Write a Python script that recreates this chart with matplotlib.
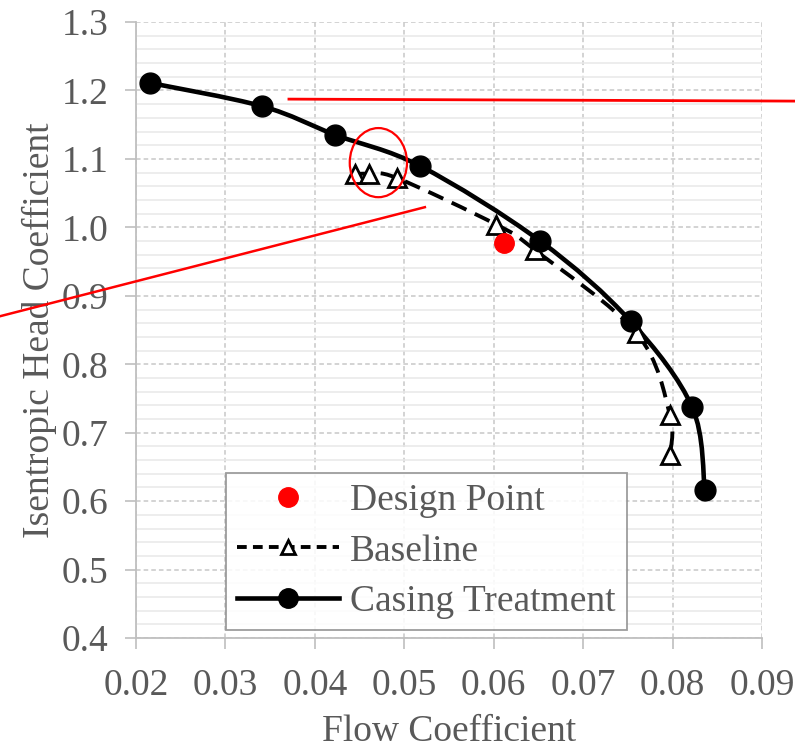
import matplotlib
matplotlib.use('Agg')
import matplotlib.pyplot as plt
from matplotlib.path import Path
from matplotlib.patches import PathPatch, Ellipse
from matplotlib.lines import Line2D
from matplotlib.ticker import MultipleLocator
import numpy as np

#################### DATA ##############################

casing_x = [0.0216, 0.0341, 0.0423, 0.0518, 0.0652, 0.0753, 0.0822, 0.0836]
casing_y = [1.211, 1.177, 1.135, 1.0895, 0.980, 0.863, 0.737, 0.616]

baseline_x = [0.0445, 0.0460, 0.0492, 0.0603, 0.0646, 0.0760, 0.0797, 0.0797]
baseline_y = [1.078, 1.078, 1.072, 1.004, 0.967, 0.845, 0.726, 0.667]

design_x = [0.0612]
design_y = [0.9765]

x_ticks = [0.02, 0.03, 0.04, 0.05, 0.06, 0.07, 0.08, 0.09]
y_ticks = [0.4, 0.5, 0.6, 0.7, 0.8, 0.9, 1.0, 1.1, 1.2, 1.3]

#################### helpers ##############################

def smooth_path(xs, ys):
    # excel style smoothed line: catmull-rom turned into cubic beziers
    p = np.column_stack([xs, ys])
    pts = np.vstack([p[0], p, p[-1]])
    verts = [p[0]]
    codes = [Path.MOVETO]
    for i in range(1, len(pts) - 2):
        c1 = pts[i] + (pts[i + 1] - pts[i - 1]) / 6.0
        c2 = pts[i + 1] - (pts[i + 2] - pts[i]) / 6.0
        verts += [c1, c2, pts[i + 1]]
        codes += [Path.CURVE4] * 3
    return Path(verts, codes)

#################### PLOT ##############################

txt = '#595959'
fs = 27
plt.rcParams['font.family'] = 'Liberation Serif'
plt.rcParams['font.size'] = fs

fig = plt.figure(figsize=(7.95, 7.5), dpi=100)
ax = fig.add_axes([0.1711, 0.1493, 0.7874, 0.8213])

ax.set_xlim(0.02, 0.09)
ax.set_ylim(0.4, 1.3)
ax.set_xticks(x_ticks)
ax.set_yticks(y_ticks)
ax.set_xticklabels(['%.2f' % v for v in x_ticks])
ax.set_yticklabels(['%.1f' % v for v in y_ticks])
ax.yaxis.set_minor_locator(MultipleLocator(0.02))

ax.grid(which='major', color='#c8c8c8', ls=(0, (3, 2)), lw=1.1, zorder=0)
ax.grid(which='minor', axis='y', color='#e8e8e8', ls='-', lw=1.1, zorder=0)
ax.tick_params(which='major', direction='out', length=8, width=1.2,
               color='#bfbfbf', labelcolor=txt, labelsize=fs)
ax.tick_params(axis='x', pad=14)
ax.tick_params(axis='y', pad=12)
ax.tick_params(which='minor', length=0)
for s in ['top', 'right']:
    ax.spines[s].set_visible(False)
for s in ['left', 'bottom']:
    ax.spines[s].set_color('#bfbfbf')
    ax.spines[s].set_linewidth(1.3)

ax.set_xlabel('Flow Coefficient', color=txt, fontsize=fs, labelpad=8)
ax.set_ylabel('Isentropic Head Coefficient', color=txt, fontsize=fs, labelpad=3)

# curves
ax.add_patch(PathPatch(smooth_path(casing_x, casing_y), fill=False,
                       ec='black', lw=3.3, zorder=3))
ax.add_patch(PathPatch(smooth_path(baseline_x, baseline_y), fill=False,
                       ec='black', lw=2.8, ls=(0, (4.2, 2.4)), zorder=3))

ax.plot(baseline_x, baseline_y, ls='none', marker='^', ms=13, mfc='white',
        mec='black', mew=2.0, zorder=4)
ax.plot(casing_x, casing_y, ls='none', marker='o', ms=15, color='black', zorder=5)
ax.plot(design_x, design_y, ls='none', marker='o', ms=14, color='red', zorder=5)

# legend
h1 = Line2D([], [], ls='none', marker='o', ms=14, color='red')
h2 = Line2D([], [], ls=(0, (2.5, 1.6)), lw=2.8, color='black', marker='^', ms=10,
            mfc='white', mec='black', mew=2.0)
h3 = Line2D([], [], ls='-', lw=3.3, color='black', marker='o', ms=14)
leg = ax.legend([h1, h2, h3], ['Design Point', 'Baseline', 'Casing Treatment'],
                loc='lower left', bbox_to_anchor=(0.144, 0.013), borderaxespad=0,
                fontsize=fs, handlelength=2.7, handletextpad=0.3, labelspacing=0.42,
                borderpad=0.3, numpoints=1, fancybox=False, framealpha=0.85,
                edgecolor='#8c8c8c', labelcolor=txt)
leg.get_frame().set_linewidth(1.3)
leg.set_zorder(6)

# red callouts
ax.add_patch(Ellipse((0.0471, 1.0946), width=0.0064, height=0.101, fill=False,
                     ec='red', lw=1.6, zorder=7))
ax.add_line(Line2D([0.0371, 0.0937], [1.1874, 1.1845], color='red', lw=2.0,
                   clip_on=False, zorder=7))
ax.add_line(Line2D([0.0048, 0.0523], [0.8702, 1.0295], color='red', lw=1.8,
                   clip_on=False, zorder=7))

fig.savefig('out.png', dpi=100)
